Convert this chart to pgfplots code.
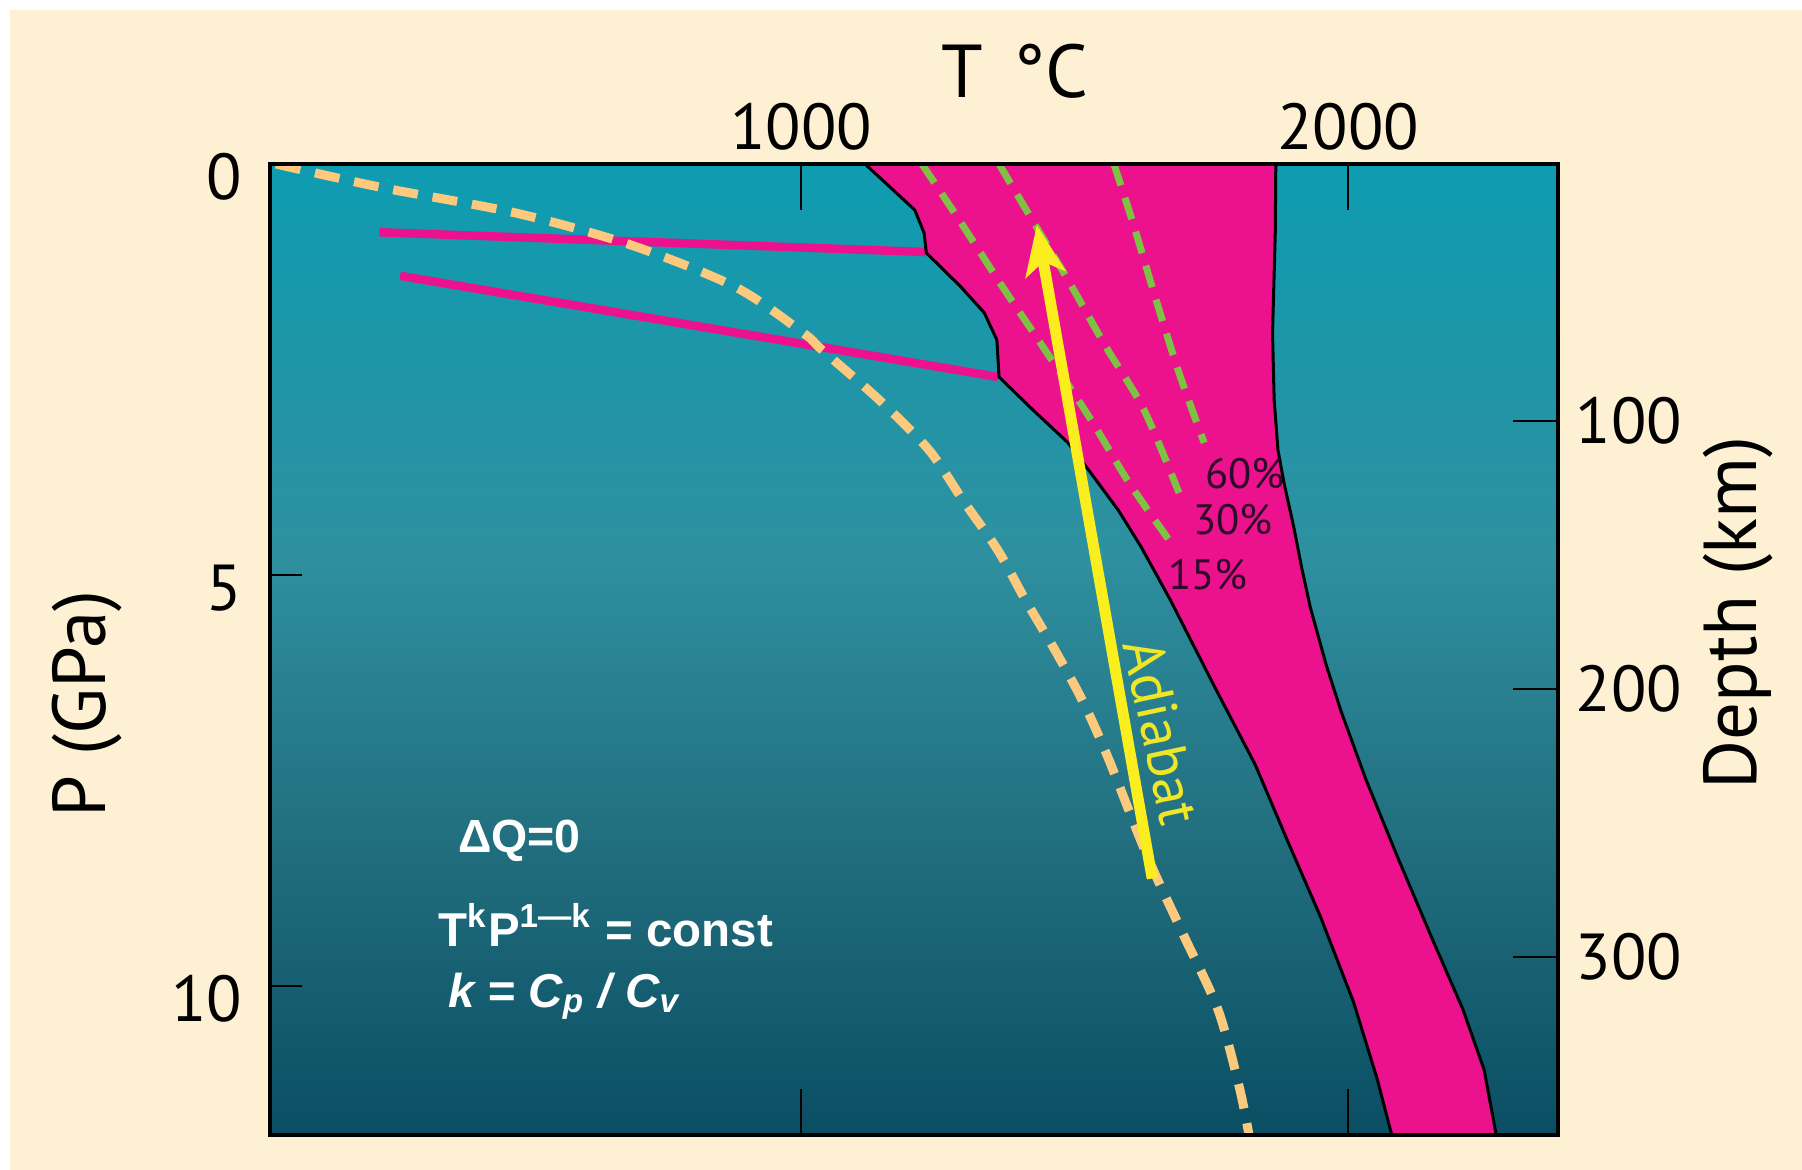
\documentclass[border=0pt]{standalone}
\usepackage{pgfplots}
\pgfplotsset{compat=1.18}
\usepackage{fontspec}
\setmainfont{PT Sans}
\newfontfamily\arialf{Liberation Sans}
\usetikzlibrary{arrows.meta}

\definecolor{beige}{RGB}{254,240,210}
\definecolor{tealA}{RGB}{14,156,177}
\definecolor{tealB}{RGB}{46,144,160}
\definecolor{tealC}{RGB}{33,110,126}
\definecolor{tealD}{RGB}{10,78,99}
\definecolor{mag}{RGB}{236,17,140}
\definecolor{grn}{RGB}{125,194,66}
\definecolor{orng}{RGB}{253,201,125}
\definecolor{yel}{RGB}{250,238,30}
\definecolor{yeltxt}{RGB}{240,230,40}
\definecolor{pcttxt}{RGB}{45,10,40}

\pgfdeclareverticalshading{bgteal}{100bp}{color(0bp)=(tealD); color(25bp)=(tealD); color(40bp)=(tealC); color(55bp)=(tealB); color(75bp)=(tealA); color(100bp)=(tealA)}

\pgfplotsset{
  common/.style={
    at={(54pt,-32.8pt)}, anchor=north west,
    scale only axis, width=257.6pt, height=194.2pt,
    tick align=inside,
    tick style={line width=0.5pt, black},
    ticklabel style={font=\fontsize{13}{13}\selectfont, text=black},
  }
}

\begin{document}
\begin{tikzpicture}[x=0.2pt,y=-0.2pt]
\useasboundingbox (0,0) rectangle (1802,1170);
\fill[white] (0,0) rectangle (1802,1170);
\fill[beige] (10,10) rectangle (1802,1170);

% main axis: data, x ticks
\begin{axis}[common,
  xmin=29, xmax=2384, ymin=0, ymax=11.81, y dir=reverse,
  axis on top,
  axis background/.style={shade, shading=bgteal},
  axis line style={line width=0.8pt, black},
  xtick={1000,2000}, xticklabels={1000,2000},
  xtick pos=both, xticklabel pos=upper,
  ytick=\empty,
  major tick length=9.2pt,
  xticklabel style={yshift=-0.8pt},
]
% melt region (between solidus and liquidus)
\addplot[draw=none, fill=mag] coordinates {
 (1117,0) (1208,0.56) (1225,0.84) (1229,1.08) (1293,1.50) (1335,1.81)
 (1358,2.14) (1362,2.59) (1419,2.96) (1488,3.39) (1530,3.76) (1580,4.21)
 (1622,4.66) (1675,5.30) (1757,6.37) (1830,7.30) (1890,8.24) (1950,9.16)
 (2010,10.19) (2053,11.12) (2080,11.81)
 (2271,11.81) (2249,11.02) (2210,10.28) (2155,9.44) (2090,8.42) (2033,7.49)
 (1987,6.65) (1960,6.09) (1931,5.39) (1915,4.90) (1901,4.42) (1883,3.88)
 (1872,3.48) (1865,2.87) (1862,2.06) (1867,0.84) (1868,0)
};
% subsolidus reaction lines
\addplot[mag, line width=1.7pt] coordinates {(229,0.83) (1227,1.07)};
\addplot[mag, line width=1.7pt] coordinates {(267,1.36) (1360,2.59)};
% solidus
\addplot[black, line width=0.6pt] coordinates {
 (1117,0) (1208,0.56) (1225,0.84) (1229,1.08) (1293,1.50) (1335,1.81)
 (1358,2.14) (1362,2.59) (1419,2.96) (1488,3.39) (1530,3.76) (1580,4.21)
 (1622,4.66) (1675,5.30) (1757,6.37) (1830,7.30) (1890,8.24) (1950,9.16)
 (2010,10.19) (2053,11.12) (2080,11.81)
};
% liquidus
\addplot[black, line width=0.6pt] coordinates {
 (1868,0) (1867,0.84) (1862,2.06) (1865,2.87) (1872,3.48) (1883,3.88)
 (1901,4.42) (1915,4.90) (1931,5.39) (1960,6.09) (1987,6.65) (2033,7.49)
 (2090,8.42) (2155,9.44) (2210,10.28) (2249,11.02) (2271,11.81)
};
% geotherm (orange dashed)
\addplot[orng, line width=1.8pt, dash pattern=on 5pt off 3pt, smooth, tension=0.5] coordinates {
 (40,0) (229,0.28) (481,0.60) (691,0.99) (881,1.50) (1005,2.06) (1038,2.26)
 (1143,2.87) (1234,3.48) (1296,4.09) (1360,4.70) (1410,5.30) (1464,5.91)
 (1514,6.52) (1560,7.20) (1633,8.42) (1698,9.36) (1762,10.28) (1801,11.22) (1819,11.81)
};
% melt fraction isopleths (green dashed)
\addplot[grn, line width=1.4pt, dash pattern=on 4.5pt off 2.6pt, smooth, tension=0.5] coordinates {
 (1221,0) (1293,0.72) (1369,1.50) (1446,2.26) (1530,3.11) (1600,3.88) (1680,4.64)
};
\addplot[grn, line width=1.4pt, dash pattern=on 4.5pt off 2.6pt, smooth, tension=0.5] coordinates {
 (1362,0) (1419,0.64) (1488,1.41) (1558,2.23) (1627,2.99) (1691,4.00)
};
\addplot[grn, line width=1.4pt, dash pattern=on 4.5pt off 2.6pt, smooth, tension=0.5] coordinates {
 (1572,0) (1607,0.72) (1649,1.65) (1691,2.54) (1737,3.39)
};
% adiabat arrow
\addplot[yel, line width=2.2pt, -{Stealth[length=10pt, width=8pt, inset=2.5pt]}] coordinates {
 (1642,8.69) (1431,0.74)
};
\end{axis}

% left pressure ticks
\begin{axis}[common,
  xmin=0, xmax=1, ymin=0, ymax=11.81, y dir=reverse,
  axis line style={draw=none},
  xtick=\empty,
  ytick={0,5,10}, yticklabels={0,5,10},
  ytick pos=left, yticklabel pos=left,
  major tick length=6.4pt,
  yticklabel style={xshift=-2pt, yshift=-2.6pt},
]
\end{axis}

% right depth ticks
\begin{axis}[common,
  xmin=0, xmax=1, ymin=4.1, ymax=366.4, y dir=reverse,
  axis line style={draw=none},
  xtick=\empty,
  ytick={100,200,300}, yticklabels={100,200,300},
  ytick pos=right, yticklabel pos=right,
  major tick length=9pt,
]
\end{axis}

% axis titles
\node[font=\fontsize{15}{15}\selectfont, inner sep=0pt] at (1015,71) {T\hspace{6pt}°C};
\node[font=\fontsize{15}{15}\selectfont, inner sep=0pt, rotate=90] at (87,704) {P (GPa)};
\node[font=\fontsize{15}{15}\selectfont, inner sep=0pt, rotate=90] at (1738,613) {Depth (km)};

% isopleth labels
\node[font=\fontsize{8.5}{8.5}\selectfont, text=pcttxt, inner sep=0pt] at (1245,474) {60\%};
\node[font=\fontsize{8.5}{8.5}\selectfont, text=pcttxt, inner sep=0pt] at (1233,520) {30\%};
\node[font=\fontsize{8.5}{8.5}\selectfont, text=pcttxt, inner sep=0pt] at (1208,575) {15\%};

% adiabat label
\node[font=\fontsize{11.5}{11.5}\selectfont, text=yeltxt, inner sep=0pt, rotate=-78] at (1162,732) {Adiabat};

% formulas
\node[font=\arialf\bfseries\fontsize{9.3}{9.3}\selectfont, text=white, inner sep=0pt, anchor=base west] at (457,853) {ΔQ=0};
\node[font=\arialf\bfseries\fontsize{9.5}{9.5}\selectfont, text=white, inner sep=0pt, anchor=base west] at (437,947) {T\textsuperscript{k}P\textsuperscript{1—k} = const};
\node[font=\arialf\bfseries\itshape\fontsize{9.5}{9.5}\selectfont, text=white, inner sep=0pt, anchor=base west] at (447,1008) {k = C\textsubscript{p} / C\textsubscript{v}};
\end{tikzpicture}
\end{document}
